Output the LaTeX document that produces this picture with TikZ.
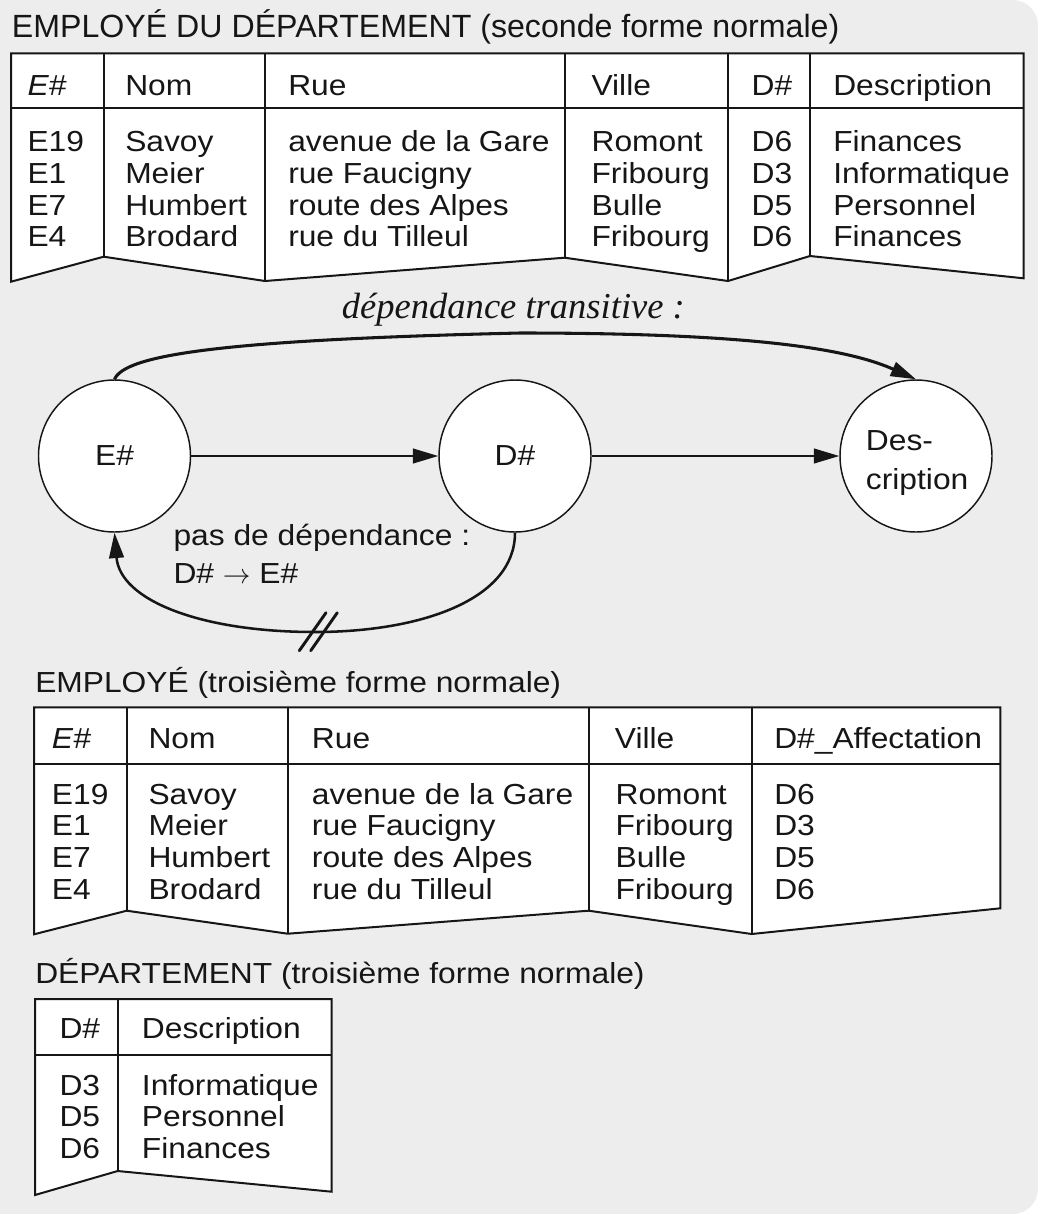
\documentclass[tikz,border=0pt]{standalone}
\usepackage{fontspec}
\setmainfont{Liberation Sans}
\newfontfamily\tabfont[FakeStretch=1.095]{Liberation Sans}
\newfontfamily\serfont{Liberation Serif}
\usetikzlibrary{arrows.meta,calc}
\definecolor{bgc}{RGB}{236,237,236}
\definecolor{ink}{RGB}{22,22,22}
\begin{document}
\begin{tikzpicture}[x=0.75pt,y=-0.75pt,
  tbl/.style={draw=ink, fill=white, line width=1.5pt, line join=miter},
  rule/.style={draw=ink, line width=1.5pt},
  cell/.style={anchor=base west, inner sep=0pt, text=ink, font=\tabfont\fontsize{21.75}{26}\selectfont},
  bigttl/.style={anchor=base west, inner sep=0pt, text=ink, font=\fontsize{24.1}{28}\selectfont},
  circ/.style={circle, draw=ink, fill=white, line width=1.1pt, minimum size=114pt, inner sep=0pt, text=ink, font=\tabfont\fontsize{21.75}{26}\selectfont},
  arr/.style={draw=ink, line width=1.5pt, -{Triangle[length=19pt,width=11pt]}},
  slash/.style={draw=ink, line width=2.2pt, line cap=round}]
\useasboundingbox (0,0) rectangle (1038,1214);
% background
\fill[bgc, rounded corners=19pt] (0,0) rectangle (1038,1214);
\fill[bgc] (0,0) rectangle (600,1214);

% ---------- Table 1 ----------
\node[bigttl] (title1) at (11.7,37.7) {EMPLOYÉ DU DÉPARTEMENT (seconde forme normale)};
\path[tbl] (11,53.3) -- (1023.7,53.3) -- (1023.7,278.3) -- (810,256) -- (728,281) -- (564.7,257.7)
  -- (265,281) -- (103.7,256.7) -- (11,281.7) -- cycle;
\draw[rule] (11,108.3) -- (1023.7,108.3);
\draw[rule] (103.7,53.3) -- (103.7,256.7);
\draw[rule] (265,53.3) -- (265,281);
\draw[rule] (564.7,53.3) -- (564.7,257.7);
\draw[rule] (728,53.3) -- (728,281);
\draw[rule] (810,53.3) -- (810,256);
\node[cell] (ta-h1) at (27.3,95) {\textit{E\#}};
\node[cell] (ta-h2) at (125,95) {Nom};
\node[cell] (ta-h3) at (288,95) {Rue};
\node[cell] (ta-h4) at (591.3,95) {Ville};
\node[cell] (ta-h5) at (751.3,95) {D\#};
\node[cell] (ta-h6) at (833,95) {Description};
\foreach \va/\vb/\vc/\vd/\ve/\vf [count=\r] in {E19/Savoy/avenue de la Gare/Romont/D6/Finances,%
E1/Meier/rue Faucigny/Fribourg/D3/Informatique,%
E7/Humbert/route des Alpes/Bulle/D5/Personnel,%
E4/Brodard/rue du Tilleul/Fribourg/D6/Finances}{
  \pgfmathsetmacro\yy{151.7+31.7*(\r-1)}
  \node[cell] (ta-a\r) at (27.3,\yy) {\va};
  \node[cell] (ta-b\r) at (125,\yy) {\vb};
  \node[cell] (ta-c\r) at (288,\yy) {\vc};
  \node[cell] (ta-d\r) at (591.3,\yy) {\vd};
  \node[cell] (ta-e\r) at (751.3,\yy) {\ve};
  \node[cell] (ta-f\r) at (833,\yy) {\vf};
}

% ---------- Dependency graph ----------
\node[anchor=base west, inner sep=0pt, text=ink, font=\serfont\itshape\fontsize{27.4}{32}\selectfont]
  (trans) at (341.7,318.3) {dépendance transitive :};
\node[circ] (E) at (114.5,456) {E\#};
\node[circ] (D) at (515,456) {D\#};
\node[circ] (desc) at (916,456) {};
\node[cell] (desc-l1) at (865.7,450) {Des-};
\node[cell] (desc-l2) at (865.7,489) {cription};
\coordinate (tp) at (520,333);
\coordinate (nb) at (315,632);
\draw[arr] (E) -- (D);
\draw[arr] (D) -- (desc);
\draw[arr, line width=2.3pt] (E.north) .. controls (125,355) and (220,340) .. (tp)
  .. controls (760,333) and (850,350) .. (desc.north);
\draw[arr, line width=1.9pt] (D.south) .. controls (515,600) and (420,632) .. (nb)
  .. controls (200,632) and (120,600) .. (E.south);
\draw[slash] ($(nb)+(-15.7,18.7)$) -- ($(nb)+(11,-19.3)$);
\draw[slash] ($(nb)+(-4.3,18.7)$) -- ($(nb)+(22.3,-19.3)$);
\node[cell] (nodep1) at (173.3,545) {pas de dépendance :};
\node[cell] (nodep2) at (173.3,583.3) {D\# $\rightarrow$ E\#};

% ---------- Table 2 ----------
\node[cell] (title2) at (35,692.7) {EMPLOYÉ (troisième forme normale)};
\path[tbl] (34,707.3) -- (1000.3,707.3) -- (1000.3,908.3) -- (751.7,934) -- (588.7,910.7)
  -- (287.7,933.7) -- (126.7,910.7) -- (34,934.3) -- cycle;
\draw[rule] (34,763.7) -- (1000.3,763.7);
\draw[rule] (126.7,707.3) -- (126.7,910.7);
\draw[rule] (287.7,707.3) -- (287.7,933.7);
\draw[rule] (588.7,707.3) -- (588.7,910.7);
\draw[rule] (751.7,707.3) -- (751.7,934);
\node[cell] (tb-h1) at (51.7,748.3) {\textit{E\#}};
\node[cell] (tb-h2) at (148.3,748.3) {Nom};
\node[cell] (tb-h3) at (311.7,748.3) {Rue};
\node[cell] (tb-h4) at (614.7,748.3) {Ville};
\node[cell] (tb-h5) at (774,748.3) {D\#\_Affectation};
\foreach \va/\vb/\vc/\vd/\ve [count=\r] in {E19/Savoy/avenue de la Gare/Romont/D6,%
E1/Meier/rue Faucigny/Fribourg/D3,%
E7/Humbert/route des Alpes/Bulle/D5,%
E4/Brodard/rue du Tilleul/Fribourg/D6}{
  \pgfmathsetmacro\yy{804+31.7*(\r-1)}
  \node[cell] (tb-a\r) at (51.7,\yy) {\va};
  \node[cell] (tb-b\r) at (148.3,\yy) {\vb};
  \node[cell] (tb-c\r) at (311.7,\yy) {\vc};
  \node[cell] (tb-d\r) at (615.3,\yy) {\vd};
  \node[cell] (tb-e\r) at (774,\yy) {\ve};
}

% ---------- Table 3 ----------
\node[cell] (title3) at (35,983.3) {DÉPARTEMENT (troisième forme normale)};
\path[tbl] (35,999) -- (331.7,999) -- (331.7,1191.7) -- (117.7,1171) -- (35,1195) -- cycle;
\draw[rule] (35,1055) -- (331.7,1055);
\draw[rule] (117.7,999) -- (117.7,1171);
\node[cell] (tc-h1) at (59.3,1038.3) {D\#};
\node[cell] (tc-h2) at (141.7,1038.3) {Description};
\foreach \va/\vb [count=\r] in {D3/Informatique,D5/Personnel,D6/Finances}{
  \pgfmathsetmacro\yy{1095+31.7*(\r-1)}
  \node[cell] (tc-a\r) at (59.3,\yy) {\va};
  \node[cell] (tc-b\r) at (141.7,\yy) {\vb};
}
\end{tikzpicture}
\end{document}
